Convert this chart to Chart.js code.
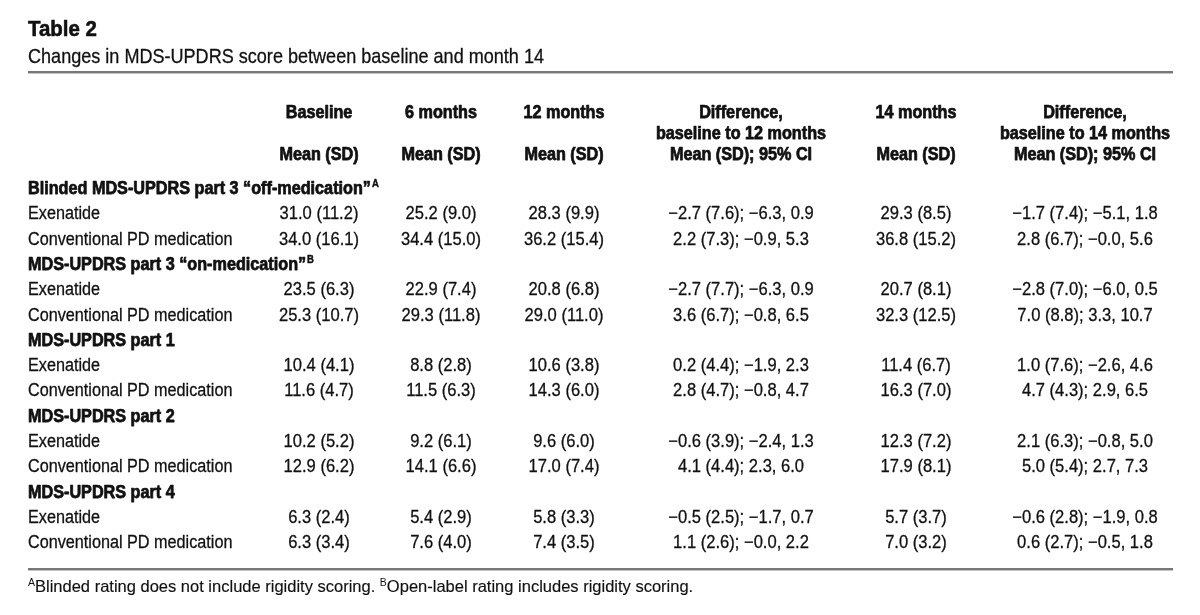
<!DOCTYPE html>
<html>
<head>
<meta charset="utf-8">
<title>Table 2</title>
<script src="https://cdn.jsdelivr.net/npm/chart.js@4.4.1/dist/chart.umd.min.js"></script>
<style>
  html, body { margin: 0; padding: 0; background: #fff; }
  #wrap { width: 1200px; height: 615px; position: relative; }
</style>
</head>
<body>
<div id="wrap"><canvas id="table2"></canvas></div>
<script>
// ---- table content ----
const tableTitle = 'Table 2';
const tableSubtitle = 'Changes in MDS-UPDRS score between baseline and month 14';
const groups = [
    'Blinded MDS-UPDRS part 3 \u201Coff-medication\u201D',
    'MDS-UPDRS part 3 \u201Con-medication\u201D',
    'MDS-UPDRS part 1',
    'MDS-UPDRS part 2',
    'MDS-UPDRS part 4'
];
const groupNotes = ['A', 'B', '', '', ''];
const arms = ['Exenatide', 'Conventional PD medication'];
const headers = [
    ['Baseline', '', 'Mean (SD)'],
    ['6 months', '', 'Mean (SD)'],
    ['12 months', '', 'Mean (SD)'],
    ['Difference,', 'baseline to 12 months', 'Mean (SD); 95% CI'],
    ['14 months', '', 'Mean (SD)'],
    ['Difference,', 'baseline to 14 months', 'Mean (SD); 95% CI']
];
const footnote = [
    { t: 'A', sup: true },
    { t: 'Blinded rating does not include rigidity scoring. ' },
    { t: 'B', sup: true },
    { t: 'Open-label rating includes rigidity scoring.' }
];

// values go: off Exe, off Conv, on Exe, on Conv, part1 Exe, part1 Conv, part2 Exe, part2 Conv, part4 Exe, part4 Conv
const baselineMean = [31.0, 34.0, 23.5, 25.3, 10.4, 11.6, 10.2, 12.9, 6.3, 6.3];
const baselineSD   = [11.2, 16.1, 6.3, 10.7, 4.1, 4.7, 5.2, 6.2, 2.4, 3.4];
const month6Mean   = [25.2, 34.4, 22.9, 29.3, 8.8, 11.5, 9.2, 14.1, 5.4, 7.6];
const month6SD     = [9.0, 15.0, 7.4, 11.8, 2.8, 6.3, 6.1, 6.6, 2.9, 4.0];
const month12Mean  = [28.3, 36.2, 20.8, 29.0, 10.6, 14.3, 9.6, 17.0, 5.8, 7.4];
const month12SD    = [9.9, 15.4, 6.8, 11.0, 3.8, 6.0, 6.0, 7.4, 3.3, 3.5];
const diff12Mean   = [-2.7, 2.2, -2.7, 3.6, 0.2, 2.8, -0.6, 4.1, -0.5, 1.1];
const diff12SD     = [7.6, 7.3, 7.7, 6.7, 4.4, 4.7, 3.9, 4.4, 2.5, 2.6];
const diff12Low    = [-6.3, -0.9, -6.3, -0.8, -1.9, -0.8, -2.4, 2.3, -1.7, -0.0];
const diff12High   = [0.9, 5.3, 0.9, 6.5, 2.3, 4.7, 1.3, 6.0, 0.7, 2.2];
const month14Mean  = [29.3, 36.8, 20.7, 32.3, 11.4, 16.3, 12.3, 17.9, 5.7, 7.0];
const month14SD    = [8.5, 15.2, 8.1, 12.5, 6.7, 7.0, 7.2, 8.1, 3.7, 3.2];
const diff14Mean   = [-1.7, 2.8, -2.8, 7.0, 1.0, 4.7, 2.1, 5.0, -0.6, 0.6];
const diff14SD     = [7.4, 6.7, 7.0, 8.8, 7.6, 4.3, 6.3, 5.4, 2.8, 2.7];
const diff14Low    = [-5.1, -0.0, -6.0, 3.3, -2.6, 2.9, -0.8, 2.7, -1.9, -0.5];
const diff14High   = [1.8, 5.6, 0.5, 10.7, 4.6, 6.5, 5.0, 7.3, 0.8, 1.8];

// ---- layout (pixels / row units) ----
const W = 1200, H = 615;
const labelX = 28;
const colX = [319, 441, 564, 741, 916, 1085];
const ruleRight = 1173;
const firstRowY = 194;       // baseline of first body row
const rowPitch = 25.3;
const headRows = [-3, -2.17, -1.34];
const ink = '#111';
const fontFam = '"Liberation Sans", Arial, Helvetica, sans-serif';

// number formatting, keeps the sign of -0.0
function fmt(v) {
    const neg = v < 0 || Object.is(v, -0);
    return (neg ? '\u2212' : '') + Math.abs(v).toFixed(1);
}
function meanSD(m, s) { return fmt(m) + ' (' + s.toFixed(1) + ')'; }
function diffCell(m, s, lo, hi) { return meanSD(m, s) + '; ' + fmt(lo) + ', ' + fmt(hi); }

const columnCells = [
    baselineMean.map((m, i) => meanSD(m, baselineSD[i])),
    month6Mean.map((m, i) => meanSD(m, month6SD[i])),
    month12Mean.map((m, i) => meanSD(m, month12SD[i])),
    diff12Mean.map((m, i) => diffCell(m, diff12SD[i], diff12Low[i], diff12High[i])),
    month14Mean.map((m, i) => meanSD(m, month14SD[i])),
    diff14Mean.map((m, i) => diffCell(m, diff14SD[i], diff14Low[i], diff14High[i]))
];

// body row index for value k
function rowOf(k) { return Math.floor(k / 2) * 3 + 1 + (k % 2); }

// text styles
const styles = {
    bold:  { font: 'bold 18px ' + fontFam, squeeze: 0.9, stroke: 0.75 },
    label: { font: '18px ' + fontFam, squeeze: 0.9, stroke: 0.3 },
    value: { font: '18px ' + fontFam, squeeze: 0.92, stroke: 0.3 }
};

// ---- datasets: every cell is a point, its text is drawn at the point ----
const datasets = [];

// row labels
const labelPts = [], labelCells = [];
groups.forEach((g, gi) => {
    labelPts.push({ x: labelX, y: gi * 3 });
    labelCells.push({ text: g, style: 'bold', note: groupNotes[gi], align: 'left' });
    arms.forEach((a, ai) => {
        labelPts.push({ x: labelX, y: gi * 3 + 1 + ai });
        labelCells.push({ text: a, style: 'label', align: 'left' });
    });
});
datasets.push({ data: labelPts, cells: labelCells });

// column headers
headers.forEach((lines, ci) => {
    const pts = [], cells = [];
    lines.forEach((t, li) => {
        if (!t) return;
        pts.push({ x: colX[ci], y: headRows[li] });
        cells.push({ text: t, style: 'bold', align: 'center' });
    });
    datasets.push({ data: pts, cells: cells });
});

// values
columnCells.forEach((col, ci) => {
    datasets.push({
        data: col.map((t, k) => ({ x: colX[ci], y: rowOf(k) })),
        cells: col.map(t => ({ text: t, style: 'value', align: 'center' }))
    });
});

// draw text squeezed horizontally (source face is a condensed grotesque)
function drawText(ctx, str, x, y, font, align, squeeze, stroke) {
    ctx.save();
    ctx.font = font;
    const w = ctx.measureText(str).width * squeeze;
    let left = x;
    if (align === 'center') left = x - w / 2;
    else if (align === 'right') left = x - w;
    ctx.translate(left, y);
    ctx.scale(squeeze, 1);
    ctx.fillStyle = ink;
    ctx.textAlign = 'left';
    ctx.textBaseline = 'alphabetic';
    ctx.fillText(str, 0, 0);
    if (stroke) {
        ctx.strokeStyle = ink;
        ctx.lineWidth = stroke;
        ctx.lineJoin = 'round';
        ctx.strokeText(str, 0, 0);
    }
    ctx.restore();
    return left + w;
}

function drawRule(ctx, y) {
    ctx.save();
    ctx.fillStyle = '#777';
    ctx.fillRect(labelX, y, ruleRight - labelX, 2);
    ctx.fillStyle = '#c4c4c4';
    ctx.fillRect(labelX, y + 2, ruleRight - labelX, 1);
    ctx.restore();
}

const tablePlugin = {
    id: 'tableText',
    afterDatasetsDraw(chart) {
        const ctx = chart.ctx;

        chart.data.datasets.forEach((ds, di) => {
            const meta = chart.getDatasetMeta(di);
            meta.data.forEach((el, i) => {
                const c = ds.cells[i];
                const s = styles[c.style];
                const end = drawText(ctx, c.text, el.x, el.y, s.font, c.align, s.squeeze, s.stroke);
                if (c.note) {
                    drawText(ctx, c.note, end + 1, el.y - 7, 'bold 10px ' + fontFam, 'left', 0.95, 0.4);
                }
            });
        });

        // title block
        drawText(ctx, tableTitle, labelX, 36, 'bold 22px ' + fontFam, 'left', 0.93, 0.6);
        drawText(ctx, tableSubtitle, labelX, 63, '21px ' + fontFam, 'left', 0.86, 0.3);
        drawRule(ctx, 71);
        drawRule(ctx, 568);

        // footnote (plain width face)
        let x = labelX;
        footnote.forEach(run => {
            if (run.sup) x = drawText(ctx, run.t, x, 586, '10.5px ' + fontFam, 'left', 1, 0);
            else x = drawText(ctx, run.t, x, 592, '16.5px ' + fontFam, 'left', 1, 0.15);
        });
    }
};

new Chart(document.getElementById('table2'), {
    type: 'scatter',
    data: { datasets: datasets },
    options: {
        responsive: true,
        maintainAspectRatio: false,
        animation: false,
        events: [],
        layout: { padding: 0 },
        elements: { point: { radius: 0, hoverRadius: 0 } },
        plugins: {
            legend: { display: false },
            tooltip: { enabled: false }
        },
        scales: {
            x: { type: 'linear', min: 0, max: W, display: false },
            y: {
                type: 'linear',
                reverse: true,
                min: -firstRowY / rowPitch,
                max: (H - firstRowY) / rowPitch,
                display: false
            }
        }
    },
    plugins: [tablePlugin]
});
</script>
</body>
</html>
